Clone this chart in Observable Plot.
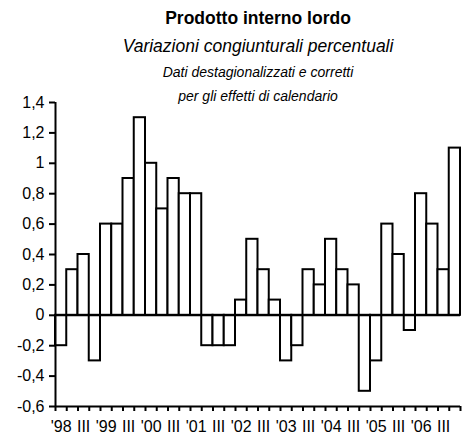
<!DOCTYPE html>
<html>
<head>
<meta charset="utf-8">
<script src="https://cdn.jsdelivr.net/npm/d3@7"></script>
<script src="https://cdn.jsdelivr.net/npm/@observablehq/plot@0.6"></script>
<style>
  html, body { margin: 0; padding: 0; background: white; }
</style>
</head>
<body>
<div id="chart"></div>
<script>
const years = ["'98", "'99", "'00", "'01", "'02", "'03", "'04", "'05", "'06"];
const quarterNames = ["I", "II", "III", "IV"];
const growth = [
  -0.2, 0.3, 0.4, -0.3,
   0.6, 0.6, 0.9, 1.3,
   1.0, 0.7, 0.9, 0.8,
   0.8, -0.2, -0.2, -0.2,
   0.1, 0.5, 0.3, 0.1,
  -0.3, -0.2, 0.3, 0.2,
   0.5, 0.3, 0.2, -0.5,
  -0.3, 0.6, 0.4, -0.1,
   0.8, 0.6, 0.3, 1.1
];
const yTicks = [-0.6, -0.4, -0.2, 0, 0.2, 0.4, 0.6, 0.8, 1, 1.2, 1.4];
const titleText = "Prodotto interno lordo";
const subtitleText = "Variazioni congiunturali percentuali";
const noteLines = ["Dati destagionalizzati e corretti", "per gli effetti di calendario"];

const periods = years.flatMap(y => quarterNames.map(q => ({year: y, q})));
const data = growth.map((v, i) => ({i, v, year: periods[i].year, q: periods[i].q}));
const n = data.length;
const labelOf = new Map(data.filter(d => d.q === "I" || d.q === "III")
  .map(d => [d.i + 0.5, d.q === "I" ? d.year : "III"]));

const font = "'Liberation Sans', Arial, Helvetica, sans-serif";
const chart = Plot.plot({
  width: 467,
  height: 441,
  marginTop: 102,
  marginBottom: 35,
  marginLeft: 55,
  marginRight: 7,
  style: {fontFamily: font, color: "black", background: "white"},
  x: {domain: [0, n], axis: null},
  y: {domain: [-0.6, 1.4], axis: null},
  marks: [
    Plot.rectY(data, {x1: "i", x2: d => d.i + 1, y1: 0, y2: "v", fill: "white", stroke: "black", strokeWidth: 2}),
    Plot.ruleY([0], {stroke: "black", strokeWidth: 2}),
    Plot.ruleX([0], {stroke: "black", strokeWidth: 2}),
    Plot.ruleY([-0.6], {stroke: "black", strokeWidth: 2}),
    Plot.axisY({ticks: yTicks, label: null, tickSize: 6, tickPadding: 5, strokeWidth: 2, fontSize: 16,
      tickFormat: d => String(Math.round(d * 10) / 10).replace(".", ",")}),
    Plot.axisX({ticks: d3.range(n + 1), label: null, tickSize: 5, strokeWidth: 2, tickFormat: () => ""}),
    Plot.axisX({ticks: Array.from(labelOf.keys()), label: null, tickSize: 0, tickPadding: 14, fontSize: 16,
      tickFormat: d => labelOf.get(d)}),
    Plot.text([titleText], {text: d => d, frameAnchor: "top", dy: -84, lineAnchor: "middle",
      fontSize: 17.5, fontWeight: "bold", fill: "black"}),
    Plot.text([subtitleText], {text: d => d, frameAnchor: "top", dy: -56, lineAnchor: "middle",
      fontSize: 17.5, fontStyle: "italic", fill: "black"}),
    Plot.text([noteLines[0]], {text: d => d, frameAnchor: "top", dy: -30, lineAnchor: "middle",
      fontSize: 14, fontStyle: "italic", fill: "black"}),
    Plot.text([noteLines[1]], {text: d => d, frameAnchor: "top", dy: -6, lineAnchor: "middle",
      fontSize: 14, fontStyle: "italic", fill: "black"})
  ]
});
document.getElementById("chart").appendChild(chart);
</script>
</body>
</html>
